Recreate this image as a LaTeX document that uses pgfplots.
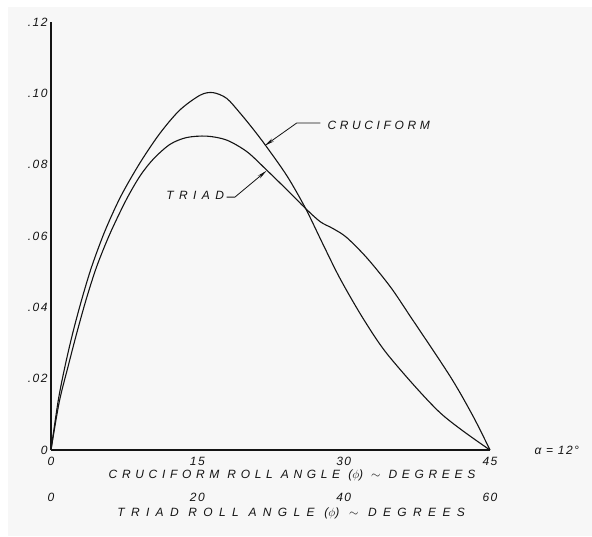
\documentclass[border=0pt]{standalone}
\usepackage{pgfplots}
\pgfplotsset{compat=1.18}
\usepackage{pgfplotstable}
\usepackage{fontspec}
\setmainfont{Liberation Sans}
\usetikzlibrary{arrows.meta}

\definecolor{paper}{HTML}{F7F7F7}
\definecolor{ink}{HTML}{141414}

% hand-lettered look: slanted capitals, spaced out
\newcommand{\lettering}[1]{\fontsize{12}{14}\selectfont\itshape\addfontfeatures{LetterSpace=#1}}
\newcommand{\numfont}{\fontsize{12}{14}\selectfont\itshape\addfontfeatures{LetterSpace=12}}

% rolling moment vs. roll angle, cruciform (degrees of cruciform roll)
\pgfplotstableread{
phi    c
0      0
0.75   0.0140
1.43   0.0234
2.22   0.0327
3.14   0.0421
4.17   0.0514
5.53   0.0614
7.15   0.0711
9.12   0.0805
11.17  0.0888
13.2   0.0953
15.3   0.0995
16.6   0.1002
18.0   0.0986
19.4   0.0944
20.8   0.0897
22.1   0.0850
24.2   0.0768
26.1   0.0677
28.0   0.0570
29.7   0.0477
32.1   0.0364
34.7   0.0261
39.9   0.0104
45     0
}\cruciform

% triad (degrees of triad roll)
\pgfplotstableread{
phi    c
0      0
1.13   0.0135
2.37   0.0237
3.51   0.0327
4.79   0.0421
6.24   0.0514
8.07   0.0607
10.27  0.0701
12.16  0.0768
14.0   0.0816
16.27  0.0857
18.53  0.0876
21.27  0.0880
24.0   0.0869
26.8   0.0836
29.47  0.0785
32.27  0.0729
34.8   0.0677
36.8   0.0640
38.53  0.0621
40.4   0.0596
43.2   0.0538
46.4   0.0457
49.13  0.0374
54.6   0.0205
57.73  0.0093
60     0
}\triad

\begin{document}
\begin{tikzpicture}[x=1pt,y=1pt]
\path[use as bounding box] (0,0) rectangle (592,537);
\fill[paper] (8,1) rectangle (592,530);

% cruciform scale (main axis)
\begin{axis}[
  at={(51pt,87pt)}, anchor=south west,
  scale only axis, width=439pt, height=428pt,
  xmin=0, xmax=45, ymin=0, ymax=0.12,
  clip=false,
  axis x line*=bottom, axis y line*=left,
  axis line style={ink, line width=1.5pt, -},
  major tick length=0pt,
  xtick={0,15,30,45}, xticklabels={0,15,30,45},
  ytick={0,0.02,0.04,0.06,0.08,0.10,0.12},
  yticklabels={0,.02,.04,.06,.08,.10,.12},
  ticklabel style={font=\numfont, text=ink},
  xticklabel style={anchor=center, yshift=-11pt},
  xlabel={CRUCIFORM ROLL ANGLE ($\phi$) $\sim$ DEGREES},
  xlabel style={at={(axis description cs:0.549,0)}, anchor=center,
    yshift=-25pt, font=\lettering{39}, text=ink},
]
\addplot[ink, line width=1.1pt, smooth, tension=0.5] table[x=phi, y=c] {\cruciform};

\draw[ink, line width=0.8pt, -{Stealth[length=10pt,width=3.5pt]}]
  (axis cs:27.6,0.0917) -- (axis cs:25.2,0.0917) -- (axis cs:21.9,0.0853);
\node[anchor=west, font=\lettering{30}, text=ink] at (axis cs:28.0,0.0910) {CRUCIFORM};

\draw[ink, line width=0.8pt, -{Stealth[length=10pt,width=3.5pt]}]
  (axis cs:18.0,0.0709) -- (axis cs:18.85,0.0709) -- (axis cs:22.1,0.0783);
\node[anchor=east, font=\lettering{45}, text=ink] at (axis cs:18.1,0.0713) {TRIAD};

\node[anchor=west, font=\numfont, text=ink] at (axis cs:49.2,0) {α = 12°};
\end{axis}

% triad scale, sharing the same frame
\begin{axis}[
  at={(51pt,87pt)}, anchor=south west,
  scale only axis, width=439pt, height=428pt,
  xmin=0, xmax=60, ymin=0, ymax=0.12,
  clip=false,
  axis x line*=bottom, axis y line=none,
  x axis line style={draw=none},
  major tick length=0pt,
  xtick={0,20,40,60}, xticklabels={0,20,40,60},
  xticklabel style={font=\numfont, text=ink, anchor=center, yshift=-47pt},
  xlabel={TRIAD ROLL ANGLE ($\phi$) $\sim$ DEGREES},
  xlabel style={at={(axis description cs:0.547,0)}, anchor=center,
    yshift=-63pt, font=\lettering{53}, text=ink},
]
\addplot[ink, line width=1.1pt, smooth, tension=0.5] table[x=phi, y=c] {\triad};
\end{axis}
\end{tikzpicture}
\end{document}
